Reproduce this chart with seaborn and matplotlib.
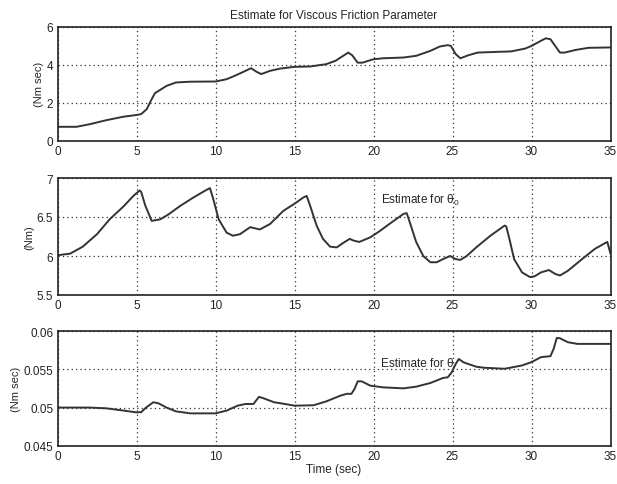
import matplotlib
matplotlib.use("Agg")
import matplotlib.pyplot as plt
import seaborn as sns
import pandas as pd

# Panel 1: viscous friction estimate (Nm sec)
t1 = [0, 1.2, 2.06, 3.1, 4.17, 5.0, 5.3, 5.65, 5.96, 6.17, 6.5, 6.9, 7.5, 8.4, 10.0, 10.7, 11.3, 11.9,
      12.25, 12.6, 12.9, 13.45, 14.1, 15.0, 16.0, 17.0, 17.6, 18.4, 18.65, 19.0, 19.3, 20.0, 20.6, 21.9,
      22.7, 23.6, 24.2, 24.7, 24.9, 25.2, 25.5, 26.0, 26.6, 27.9, 28.7, 29.6, 30.0, 30.4, 30.9, 31.2,
      31.5, 31.8, 32.1, 32.8, 33.6, 35.0]
v1 = [0.73, 0.73, 0.87, 1.08, 1.26, 1.35, 1.4, 1.66, 2.18, 2.5, 2.67, 2.88, 3.06, 3.1, 3.11, 3.23, 3.44,
      3.67, 3.81, 3.62, 3.5, 3.67, 3.79, 3.88, 3.9, 4.02, 4.2, 4.63, 4.49, 4.1, 4.1, 4.28, 4.33, 4.37,
      4.46, 4.72, 4.95, 5.02, 4.98, 4.55, 4.33, 4.49, 4.63, 4.67, 4.69, 4.84, 4.98, 5.16, 5.38, 5.33,
      4.98, 4.63, 4.63, 4.77, 4.88, 4.9]

# Panel 2: theta_0 estimate (Nm)
t2 = [0, 0.8, 1.6, 2.5, 3.3, 4.2, 4.8, 5.2, 5.3, 5.55, 5.96, 6.5, 7.0, 7.75, 8.6, 9.45, 9.65, 9.86, 10.2,
      10.7, 11.1, 11.55, 12.2, 12.8, 13.45, 14.3, 15.0, 15.56, 15.77, 15.98, 16.4, 16.8, 17.25, 17.67,
      18.1, 18.5, 18.7, 19.1, 19.8, 20.4, 21.0, 21.9, 22.1, 22.3, 22.7, 23.15, 23.6, 24.0, 24.5, 24.85,
      25.2, 25.5, 25.9, 26.5, 27.4, 28.3, 28.4, 28.6, 28.9, 29.4, 29.9, 30.2, 30.6, 31.1, 31.5, 31.8,
      32.3, 33.2, 34.0, 34.7, 34.8, 35.0]
v2 = [6.01, 6.03, 6.12, 6.28, 6.47, 6.64, 6.77, 6.84, 6.82, 6.65, 6.45, 6.47, 6.53, 6.64, 6.75, 6.85,
      6.87, 6.73, 6.47, 6.30, 6.26, 6.28, 6.37, 6.34, 6.41, 6.58, 6.67, 6.75, 6.77, 6.65, 6.39, 6.22,
      6.12, 6.11, 6.17, 6.22, 6.2, 6.18, 6.24, 6.32, 6.41, 6.54, 6.55, 6.43, 6.18, 6.0, 5.92, 5.92,
      5.97, 6.0, 5.96, 5.95, 6.0, 6.11, 6.26, 6.39, 6.38, 6.22, 5.96, 5.79, 5.73, 5.74, 5.79, 5.82,
      5.77, 5.75, 5.81, 5.96, 6.09, 6.17, 6.18, 6.03]

# Panel 3: theta estimate (Nm sec)
t3 = [0, 2.06, 3.1, 4.2, 5.0, 5.3, 5.6, 6.07, 6.4, 6.9, 7.5, 8.4, 10.0, 10.7, 11.4, 11.9, 12.4, 12.75,
      13.0, 13.7, 14.3, 15.0, 16.2, 17.0, 17.9, 18.3, 18.6, 18.8, 19.0, 19.25, 19.8, 20.6, 21.9, 22.7,
      23.6, 24.4, 24.7, 24.95, 25.2, 25.4, 25.7, 26.5, 27.0, 28.3, 29.4, 30.0, 30.6, 31.2, 31.4, 31.6,
      31.8, 32.3, 32.9, 35.0]
v3 = [0.05, 0.05, 0.0499, 0.0496, 0.04937, 0.0494, 0.05, 0.0507, 0.05055, 0.05, 0.0495, 0.04924,
      0.04924, 0.0496, 0.05025, 0.05047, 0.05047, 0.0514, 0.05125, 0.0507, 0.0505, 0.05025, 0.0503,
      0.0508, 0.05156, 0.0518, 0.0518, 0.05244, 0.05344, 0.05344, 0.05287, 0.05265, 0.05252, 0.05274,
      0.05322, 0.05388, 0.05397, 0.05462, 0.05571, 0.05637, 0.05593, 0.05536, 0.05522, 0.05509,
      0.05552, 0.05596, 0.05661, 0.05674, 0.0577, 0.05913, 0.05909, 0.05857, 0.05835, 0.05835]

xticks = [0, 5, 10, 15, 20, 25, 30, 35]
yticks1 = [0, 2, 4, 6]
yticks2 = [5.5, 6, 6.5, 7]
yticks3 = [0.045, 0.05, 0.055, 0.06]
ylabels = ["(Nm sec)", "(Nm)", "(Nm sec)"]

sns.set_style("white")
plt.rcParams["font.family"] = ["Liberation Sans", "DejaVu Sans"]
plt.rcParams["mathtext.fontset"] = "custom"
plt.rcParams["mathtext.rm"] = "Liberation Sans"
plt.rcParams["mathtext.it"] = "Liberation Sans"

fig = plt.figure(figsize=(6.17, 4.85), dpi=100)
L, R = 57.5, 610.5
boxes = [(27.5, 141.7), (179, 296), (332.3, 446.7)]
axes = []
for top, bot in boxes:
    axes.append(fig.add_axes([L / 617, 1 - bot / 485, (R - L) / 617, (bot - top) / 485]))

series = [(t1, v1, yticks1, (0, 6)), (t2, v2, yticks2, (5.5, 7)), (t3, v3, yticks3, (0.045, 0.06))]
for ax, (t, v, yt, yl), lab in zip(axes, series, ylabels):
    df = pd.DataFrame({"t": t, "v": v})
    sns.lineplot(data=df, x="t", y="v", ax=ax, color="#333333", linewidth=1.4)
    ax.set_xlim(0, 35)
    ax.set_ylim(*yl)
    ax.set_xticks(xticks)
    ax.set_yticks(yt)
    ax.set_yticklabels([f"{y:g}" for y in yt])
    ax.grid(True, color="#333333", linestyle=(0, (1, 2.5)), linewidth=0.9)
    ax.tick_params(direction="in", labelsize=8.5, length=3, colors="#222222", pad=3)
    for s in ax.spines.values():
        s.set_color("#222222")
        s.set_linewidth(1.2)
    ax.set_ylabel(lab, fontsize=8, labelpad=2)
    ax.set_xlabel("")

axes[0].set_title("Estimate for Viscous Friction Parameter", fontsize=8.5, pad=6)
axes[1].text(20.5, 6.73, r"Estimate for θ$_0$", fontsize=8.5, va="center")
axes[2].text(20.5, 0.0558, "Estimate for θ", fontsize=8.5, va="center")
axes[2].set_xlabel("Time (sec)", fontsize=8.5, labelpad=1)

fig.savefig("out.png", dpi=100)
